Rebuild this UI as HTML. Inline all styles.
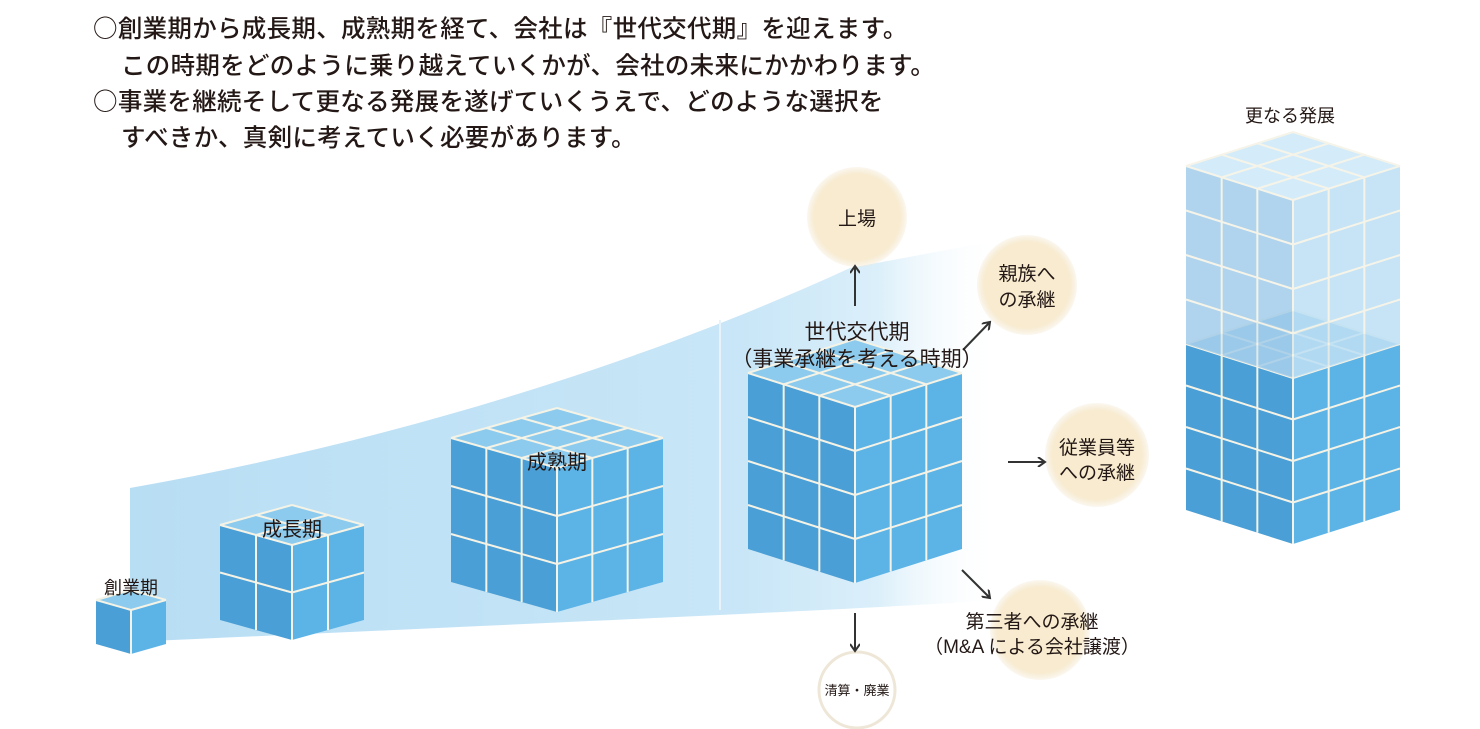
<!DOCTYPE html>
<html><head><meta charset="utf-8">
<style>
html,body{margin:0;padding:0;background:#fff;}
body{width:1480px;height:729px;overflow:hidden;position:relative;font-family:"Liberation Sans","Noto Sans CJK JP",sans-serif;color:#231815;}
.t{position:absolute;font-size:24.5px;white-space:nowrap;letter-spacing:0.3px;font-weight:500;}
.c{font-family:"Noto Sans CJK JP",sans-serif;}
svg{position:absolute;left:0;top:0;}
</style></head><body>
<svg id="s" width="1480" height="729" viewBox="0 0 1480 729">
<defs>
<linearGradient id="band" x1="0" y1="0" x2="1" y2="0">
<stop offset="0" stop-color="#b8def4"/>
<stop offset="0.7" stop-color="#c8e6f7"/>
<stop offset="0.86" stop-color="#dbeffa"/>
<stop offset="1" stop-color="#ffffff" stop-opacity="0"/>
</linearGradient>
<radialGradient id="cream" cx="0.5" cy="0.5" r="0.5">
<stop offset="0.85" stop-color="#f8ebcf"/>
<stop offset="1" stop-color="#f3e6cc" stop-opacity="0.3"/>
</radialGradient>
<marker id="ah" markerWidth="10" markerHeight="10" refX="8" refY="5" orient="auto" markerUnits="userSpaceOnUse">
<path d="M1,0 L8,5 L1,10" fill="none" stroke="#333" stroke-width="2"/>
</marker>
</defs>
<path d="M130,488 C400,440 650,360 850,268 L1000,240 L1000,600 C850,610 500,625 130,642 Z" fill="url(#band)"/>
<line x1="720" y1="320" x2="720" y2="610" stroke="#e6f3fb" stroke-width="2"/>
<g id="cubes"></g>
<circle cx="857" cy="217" r="50" fill="url(#cream)"/>
<circle cx="1027" cy="285" r="50" fill="url(#cream)"/>
<circle cx="1097" cy="455" r="52" fill="url(#cream)"/>
<circle cx="1040" cy="630" r="50" fill="url(#cream)"/>
<circle cx="857" cy="690" r="38" fill="#fff" stroke="#eee7d8" stroke-width="3"/>
<g stroke="#333" stroke-width="2" fill="none">
<line x1="855" y1="306" x2="855" y2="266" marker-end="url(#ah)"/>
<line x1="963" y1="350" x2="990" y2="322" marker-end="url(#ah)"/>
<line x1="1008" y1="462" x2="1045" y2="462" marker-end="url(#ah)"/>
<line x1="962" y1="570" x2="990" y2="598" marker-end="url(#ah)"/>
<line x1="855" y1="613" x2="855" y2="651" marker-end="url(#ah)"/>
</g>
<g font-family="Liberation Sans, Noto Sans CJK JP, sans-serif" fill="#231815" text-anchor="middle">
<text x="1290" y="122" font-size="18">更なる発展</text>
<text x="131" y="594" font-size="18">創業期</text>
<text x="292" y="536" font-size="20">成長期</text>
<text x="557" y="469" font-size="20">成熟期</text>
<text x="857" y="339" font-size="21">世代交代期</text>
<text x="857" y="366" font-size="21">（事業承継を考える時期）</text>
<text x="857" y="225" font-size="19">上場</text>
<text x="1027" y="280" font-size="19">親族へ</text>
<text x="1027" y="306" font-size="19">の承継</text>
<text x="1097" y="454" font-size="19">従業員等</text>
<text x="1097" y="479" font-size="19">への承継</text>
<text x="1032" y="628" font-size="19">第三者への承継</text>
<text x="1032" y="653" font-size="19">（M&amp;A による会社譲渡）</text>
<text x="857" y="695" font-size="13">清算・廃業</text>
</g>
</svg>
<div class="t" style="left:93px;top:10px;"><span class="c">○</span>創業期から成長期、成熟期を経て、会社は『世代交代期』を迎えます。</div>
<div class="t" style="left:121px;top:47px;">この時期をどのように乗り越えていくかが、会社の未来にかかわります。</div>
<div class="t" style="left:93px;top:83px;"><span class="c">○</span>事業を継続そして更なる発展を遂げていくうえで、どのような選択を</div>
<div class="t" style="left:121px;top:119px;">すべきか、真剣に考えていく必要があります。</div>
<script>
var NS="http://www.w3.org/2000/svg",G=document.getElementById("cubes");
function el(t,a){var e=document.createElementNS(NS,t);for(var k in a)e.setAttribute(k,a[k]);G.appendChild(e);return e;}
function P(pts){return pts.map(function(p){return p[0].toFixed(1)+","+p[1].toFixed(1)}).join(" ");}
function L(a,b){el("line",{x1:a[0],y1:a[1],x2:b[0],y2:b[1],stroke:"#f5f3e6","stroke-width":2});}
function lerp(a,b,t){return [a[0]+(b[0]-a[0])*t,a[1]+(b[1]-a[1])*t];}
function cube(cx,ty,hw,dy,h,n,rows,cl,cr,ct,op){
 var A=[cx-hw,ty-dy],F=[cx,ty],R=[cx+hw,ty-dy],B=[cx,ty-2*dy];
 var Ab=[A[0],A[1]+h],Fb=[F[0],F[1]+h],Rb=[R[0],R[1]+h];
 var g=G;var grp=document.createElementNS(NS,"g");grp.setAttribute("opacity",op||1);G.appendChild(grp);G=grp;
 el("polygon",{points:P([A,F,Fb,Ab]),fill:cl});
 el("polygon",{points:P([F,R,Rb,Fb]),fill:cr});
 el("polygon",{points:P([A,B,R,F]),fill:ct});
 for(var i=1;i<n;i++){var t=i/n;
  L(lerp(A,F,t),lerp(Ab,Fb,t));L(lerp(F,R,t),lerp(Fb,Rb,t));
  L(lerp(A,F,t),lerp(B,R,t));L(lerp(A,B,t),lerp(F,R,t));}
 for(var j=1;j<rows;j++){var s=j/rows;
  L(lerp(A,Ab,s),lerp(F,Fb,s));L(lerp(F,Fb,s),lerp(R,Rb,s));}
 L(A,F);L(F,R);L(F,Fb);L(A,B);L(B,R);
 G=g;
}
var cl="#4a9fd6",cr="#5cb3e6",ct="#8ccbee";
cube(131,610,35,10,44,1,1,cl,cr,ct);
cube(292,545,72,20,95,2,2,cl,cr,ct);
cube(557,468,106,30,144,3,3,cl,cr,ct);
cube(855,407,107,34,176,3,4,cl,cr,ct);
cube(1293,378,107,34,166,3,4,cl,cr,"#6fb8e6");
cube(1293,200,107,34,178,3,4,"#a3cdea","#bde0f5","#cde9f8",0.85);
</script>
</body></html>
